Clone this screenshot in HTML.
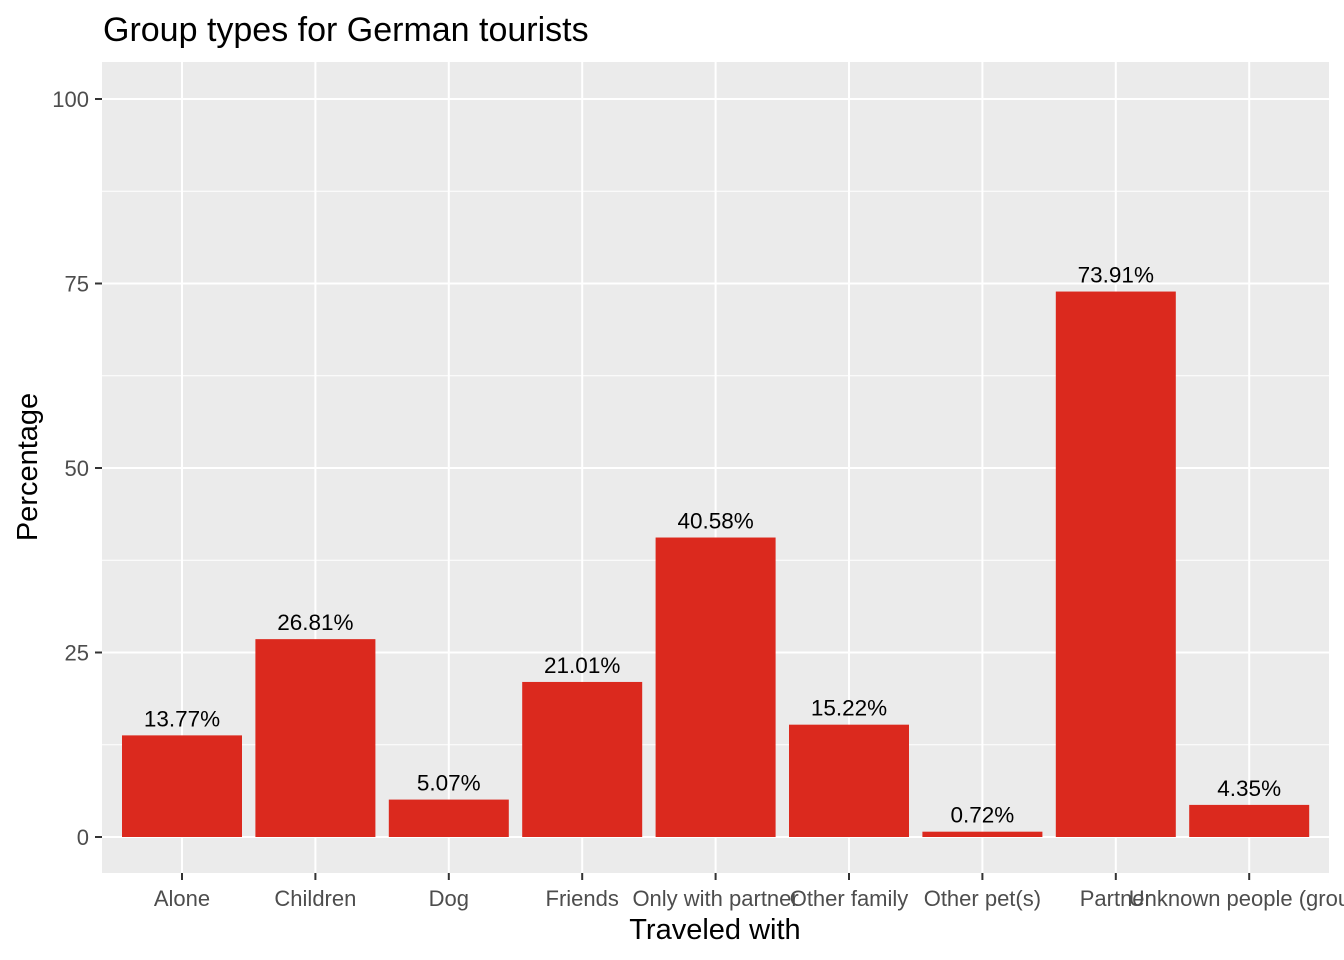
<!DOCTYPE html>
<html><head><meta charset="utf-8"><style>
html,body{margin:0;padding:0;background:#fff;width:1344px;height:960px;overflow:hidden;font-family:"Liberation Sans",Arial,sans-serif}
</style></head><body>
<svg id="chart" width="1344" height="960" xmlns="http://www.w3.org/2000/svg" font-family="Liberation Sans, Arial, sans-serif">
<text x="103" y="41" font-size="34" fill="#000">Group types for German tourists</text>
<rect x="102" y="62" width="1227" height="811" fill="#ebebeb"/>
<g id="grid"></g><g id="bars"></g><g id="labels"></g><g id="axes"></g>
<text x="715" y="939" font-size="29" text-anchor="middle" fill="#000">Traveled with</text>
<text transform="translate(37,467) rotate(-90)" font-size="29" text-anchor="middle" fill="#000">Percentage</text>
</svg>
<script>
const categories=["Alone","Children","Dog","Friends","Only with partner","Other family","Other pet(s)","Partner","Unknown people (group)"];
const values=[13.77,26.81,5.07,21.01,40.58,15.22,0.72,73.91,4.35];
const valueLabels=["13.77%","26.81%","5.07%","21.01%","40.58%","15.22%","0.72%","73.91%","4.35%"];
const yTicks=[0,25,50,75,100];
const yMinor=[12.5,37.5,62.5,87.5];
const NS="http://www.w3.org/2000/svg";
const y=v=>837-v*7.38;
const x=i=>182+i*133.4;
const bw=120;
function mk(tag,attrs,parent,text){const e=document.createElementNS(NS,tag);for(const k in attrs)e.setAttribute(k,attrs[k]);if(text!==undefined)e.textContent=text;document.getElementById(parent).appendChild(e);return e;}
yMinor.forEach(v=>{const l=mk('line',{x1:102,x2:1329,y1:y(v),y2:y(v),stroke:'#fff','stroke-width':1},'grid');

});
yTicks.forEach(v=>{const l=mk('line',{x1:102,x2:1329,y1:y(v),y2:y(v),stroke:'#fff','stroke-width':2},'grid');


const t=mk('line',{x1:95,x2:102,y1:y(v),y2:y(v),stroke:'#333','stroke-width':2},'axes');


const tl=mk('text',{x:89,y:y(v)+8,'font-size':22,'text-anchor':'end',fill:'#4d4d4d'},'axes',String(v));

});
categories.forEach((c,i)=>{const g=mk('line',{x1:x(i),x2:x(i),y1:62,y2:873,stroke:'#fff','stroke-width':2},'grid');


const b=mk('rect',{x:x(i)-bw/2,y:y(values[i]),width:bw,height:y(0)-y(values[i]),fill:'#db291e'},'bars');


const vl=mk('text',{x:x(i),y:y(values[i])-9,'font-size':22.5,'text-anchor':'middle',fill:'#000'},'labels',valueLabels[i]);


const t=mk('line',{x1:x(i),x2:x(i),y1:873,y2:880,stroke:'#333','stroke-width':2},'axes');


const tl=mk('text',{x:x(i),y:906,'font-size':22,'text-anchor':'middle',fill:'#4d4d4d'},'axes',c);

});
</script>
</body></html>
